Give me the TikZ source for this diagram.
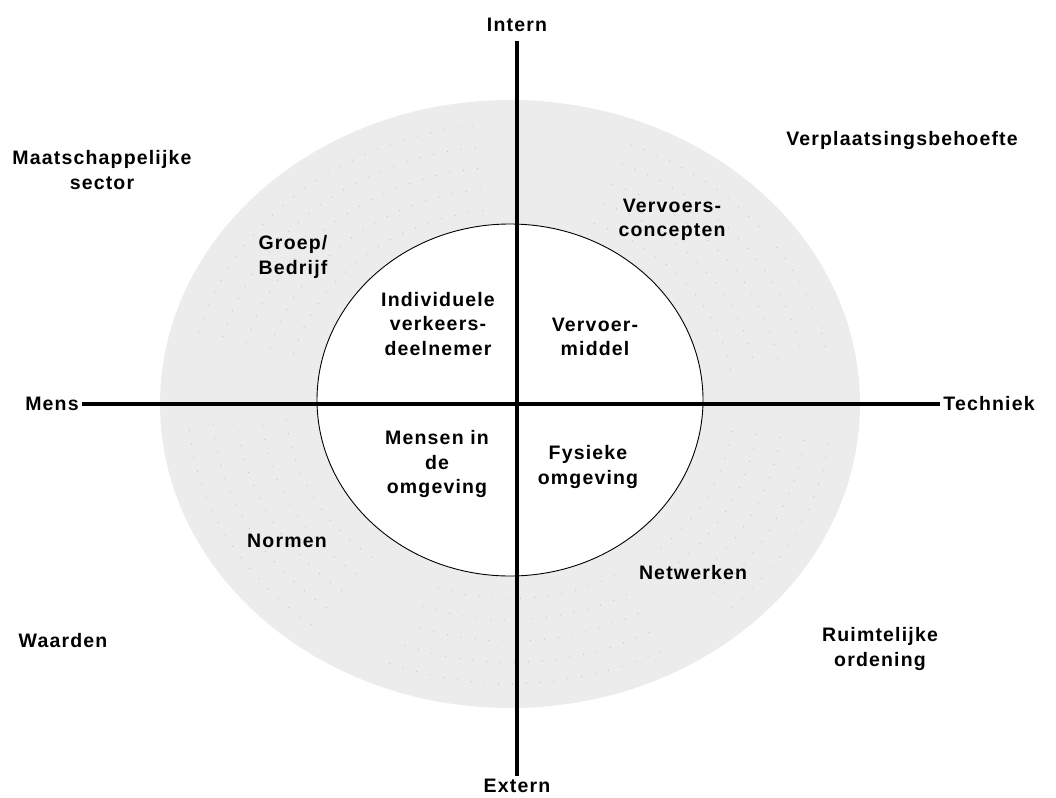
\documentclass[tikz,border=0pt]{standalone}
\usepackage{fontspec}
\setmainfont{Liberation Sans}[LetterSpace=6]
\usepackage{xcolor}
\definecolor{ring}{HTML}{ececec}
\definecolor{speck}{HTML}{c4c4c4}
\usepackage{tikz}
\usetikzlibrary{positioning, shapes.geometric}
\tikzset{
    lbl/.style={
        align=center,
        inner sep=3pt,
        font=\fontsize{19.5}{24.5}\selectfont\bfseries
    },
    axisline/.style={
        line width=4pt
    },
    specks/.style={
        speck, line width=0.9pt,
        dash pattern=on 0.9pt off 13pt
    },
    core/.style={
        ellipse, draw, fill=white, line width=0.9pt,
        inner sep=0pt
    },
}

\begin{document}
\begin{tikzpicture}[x=1pt, y=-1pt]
        \useasboundingbox (0,0) rectangle (1056,797);
        \coordinate (m) at (510,404);

        % ring and dots
        \fill[ring] (m) ellipse[x radius=350, y radius=304];
        \foreach \s in {0.64, 0.71, 0.78, 0.85, 0.92}
            \foreach \a/\b in {195/265, 292/350, 8/48, 62/112, 128/176}
                \draw[specks] (m) ++(\a:{\s*350} and {\s*304})
                    arc[start angle=\a, end angle=\b, x radius={\s*350}, y radius={\s*304}];

        \node[core, minimum width=386, minimum height=352] (kern) at (510,400) {};

        % axes
        \node[lbl] (intern) at (517,25) {Intern};
        \node[lbl] (extern) at (517,786) {Extern};
        \node[lbl] (mens) at (52,404) {Mens};
        \node[lbl] (techniek) at (989,404) {Techniek};
        \draw[axisline, shorten <=6pt] (intern) -- (extern);
        \draw[axisline] (mens) -- (techniek);

        % outer labels
        \node[lbl] (maatsch) at (102,170) {Maatschappelijke\\sector};
        \node[lbl] (behoefte) at (902,141) {Verplaatsingsbehoefte};
        \node[lbl] (waarden) at (63,641) {Waarden};
        \node[lbl] (ordening) at (880,649) {Ruimtelijke\\ordening};

        % ring labels
        \node[lbl] (groep) at (293,257) {Groep/\\Bedrijf};
        \node[lbl] (concepten) at (672,220) {Vervoers-\\concepten};
        \node[lbl] (normen) at (287,541) {Normen};
        \node[lbl] (netwerken) at (693,573) {Netwerken};

        % core labels
        \node[lbl] (deelnemer) at (438,324) {Individuele\\verkeers-\\deelnemer};
        \node[lbl] (middel) at (595,337) {Vervoer-\\middel};
        \node[lbl] (mensomg) at (437,464) {Mensen in\\de\\omgeving};
        \node[lbl] (fysomg) at (588,467) {Fysieke\\omgeving};
    \end{tikzpicture}
\end{document}
